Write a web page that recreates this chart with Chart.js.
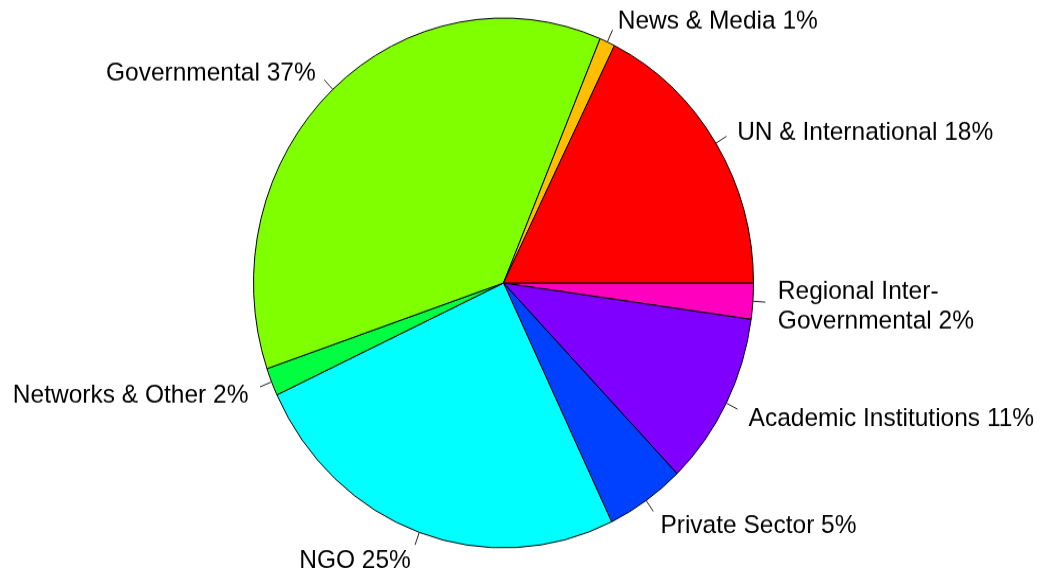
<!DOCTYPE html>
<html lang="en">
<head>
  <meta charset="UTF-8">
  <title>Pie chart</title>
  <script src="https://cdn.jsdelivr.net/npm/chart.js"></script>
  <style>
    body {
      margin: 0;
      background: #fff;
    }
  </style>
</head>
<body>
<!-- drawn at 1040x536 and stretched to 568 tall, like the reference -->
<canvas id="pie" width="1040" height="536" style="display:block; width:1040px; height:568px;"></canvas>

<script>
// slices listed clockwise starting from 3 o'clock
const categories = [
  ["Regional Inter-", "Governmental 2%"],
  "Academic Institutions 11%",
  "Private Sector 5%",
  "NGO 25%",
  "Networks & Other 2%",
  "Governmental 37%",
  "News & Media 1%",
  "UN & International 18%"
];
const shares = [2.2, 10.6, 5.1, 25.2, 1.7, 36.6, 1.0, 17.7];
const sliceColors = ["#FF00BF", "#8000FF", "#0040FF", "#00FFFF", "#00FF40", "#80FF00", "#FFBF00", "#FF0000"];

// R-style labels: tick from r to 1.05r, text at 1.1r
const pieLabels = {
  id: "pieLabels",
  afterDatasetsDraw(chart) {
    const ctx = chart.ctx;
    const arcs = chart.getDatasetMeta(0).data;
    ctx.save();
    ctx.font = "24.5px 'Liberation Sans', Arial, sans-serif";
    ctx.fillStyle = "#000";
    ctx.strokeStyle = "#222";
    ctx.lineWidth = 1;
    ctx.textBaseline = "middle";
    arcs.forEach((arc, i) => {
      const mid = (arc.startAngle + arc.endAngle) / 2;
      const r = arc.outerRadius;
      const c = Math.cos(mid), s = Math.sin(mid);
      ctx.beginPath();
      ctx.moveTo(arc.x + r * c, arc.y + r * s);
      ctx.lineTo(arc.x + 1.05 * r * c, arc.y + 1.05 * r * s);
      ctx.stroke();
      const tx = arc.x + 1.1 * r * c;
      const ty = arc.y + 1.1 * r * s + 3.5;
      ctx.textAlign = c < 0 ? "right" : "left";
      const lines = [].concat(categories[i]);
      const lh = 27.5;
      lines.forEach((line, k) => {
        ctx.fillText(line, tx, ty + (k - (lines.length - 1) / 2) * lh);
      });
    });
    ctx.restore();
  }
};

const chart = new Chart(document.getElementById("pie"), {
  type: "pie",
  data: {
    labels: categories,
    datasets: [{
      data: shares,
      backgroundColor: sliceColors,
      borderColor: "#000",
      borderWidth: 1
    }]
  },
  options: {
    responsive: false,
    animation: false,
    rotation: 90,
    radius: 250,
    layout: { padding: { left: 0, right: 33, top: 0, bottom: 2 } },
    plugins: {
      legend: { display: false },
      tooltip: { enabled: false }
    }
  },
  plugins: [pieLabels]
});
chart.canvas.style.height = "568px";
</script>
</body>
</html>
